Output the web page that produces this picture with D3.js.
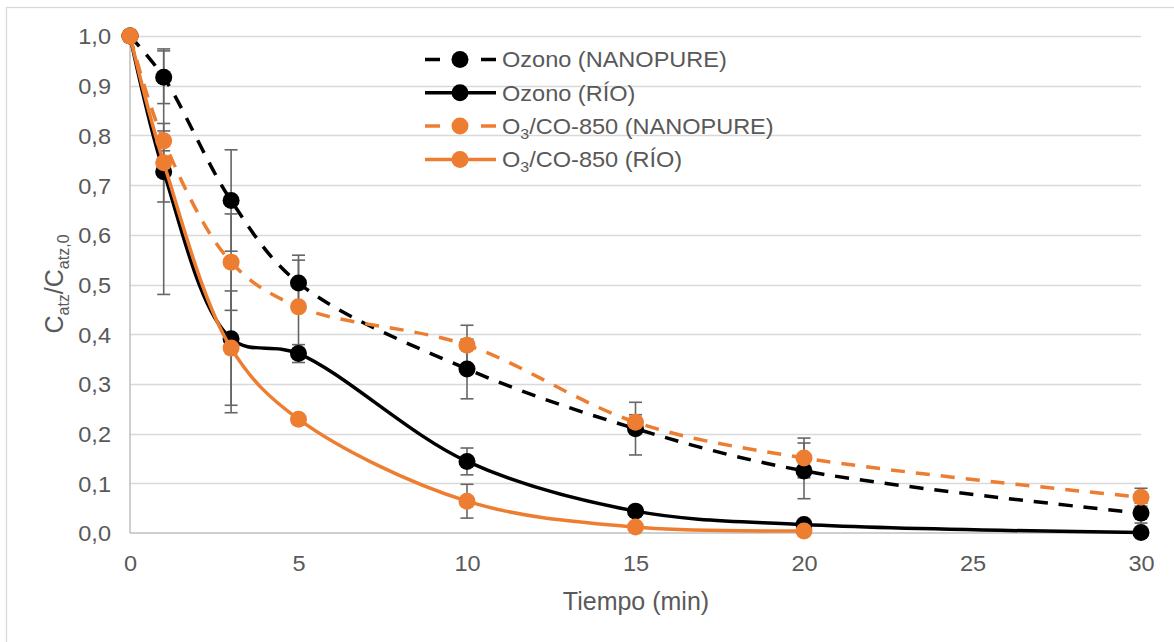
<!DOCTYPE html>
<html><head><meta charset="utf-8">
<script src="https://cdn.jsdelivr.net/npm/d3@7"></script>
<style>
body{margin:0;background:#fff;}
text{font-family:"Liberation Sans",Arial,sans-serif;fill:#595959;}
</style>
</head><body>
<svg id="c" width="1174" height="642"></svg>
<script>
// ---- data ----
const timesAll = [0, 1, 3, 5, 10, 15, 20, 30];
const timesCoRio = [0, 1, 3, 5, 10, 15, 20];
const ozonoNano = [1.0, 0.917, 0.669, 0.503, 0.330, 0.210, 0.125, 0.040];
const ozonoNanoErr = [0, 0.053, 0.102, 0.056, 0.060, 0.053, 0.056, 0.020];
const ozonoRio = [1.0, 0.727, 0.391, 0.361, 0.144, 0.044, 0.017, 0.001];
const ozonoRioErr = [0, 0.247, 0.149, 0.018, 0.027, 0, 0, 0];
const coNano = [1.0, 0.789, 0.545, 0.455, 0.378, 0.223, 0.151, 0.072];
const coNanoErr = [0, 0.020, 0.097, 0.094, 0.040, 0.015, 0.040, 0.018];
const coRio = [1.0, 0.745, 0.372, 0.229, 0.064, 0.012, 0.004];
const coRioErr = [0, 0.079, 0.115, 0, 0.034, 0, 0];
const xTicks = [0, 5, 10, 15, 20, 25, 30];
const yTicks = [0, 0.1, 0.2, 0.3, 0.4, 0.5, 0.6, 0.7, 0.8, 0.9, 1.0];
const yTickLabels = ["0,0","0,1","0,2","0,3","0,4","0,5","0,6","0,7","0,8","0,9","1,0"];
const xTickLabels = ["0","5","10","15","20","25","30"];

const ORANGE = "#ED7D31", BLACK = "#000000";
const series = [
  {name: ["Ozono (NANOPURE)"], t: timesAll, v: ozonoNano, e: ozonoNanoErr, color: BLACK, dash: true},
  {name: ["Ozono (RÍO)"], t: timesAll, v: ozonoRio, e: ozonoRioErr, color: BLACK, dash: false},
  {name: ["O", "3", "/CO-850 (NANOPURE)"], t: timesAll, v: coNano, e: coNanoErr, color: ORANGE, dash: true},
  {name: ["O", "3", "/CO-850 (RÍO)"], t: timesCoRio, v: coRio, e: coRioErr, color: ORANGE, dash: false}
];

// ---- layout ----
const svg = d3.select("#c");
const x = d3.scaleLinear().domain([0, 30]).range([130, 1141]);
const y = d3.scaleLinear().domain([0, 1]).range([533, 36]);
const SX = 1.07; // horizontal text stretch

// outer border
svg.append("rect").attr("x", 6.5).attr("y", 7.5).attr("width", 1200).attr("height", 700)
  .attr("fill", "none").attr("stroke", "#d9d9d9").attr("stroke-width", 1.3);

// gridlines
svg.append("g").selectAll("line").data(yTicks.slice(1)).join("line")
  .attr("x1", x(0)).attr("x2", x(30))
  .attr("y1", d => Math.round(y(d)) + 0.5).attr("y2", d => Math.round(y(d)) + 0.5)
  .attr("stroke", "#d9d9d9").attr("stroke-width", 1.3);

// axes lines
svg.append("line").attr("x1", x(0)).attr("x2", x(30)).attr("y1", y(0)).attr("y2", y(0))
  .attr("stroke", "#bfbfbf").attr("stroke-width", 1.5);
svg.append("line").attr("x1", x(0)).attr("x2", x(0)).attr("y1", y(0)).attr("y2", y(1))
  .attr("stroke", "#bfbfbf").attr("stroke-width", 1.5);

// y tick labels via axis
const yAxis = d3.axisLeft(y).tickValues(yTicks).tickSize(0).tickPadding(0)
  .tickFormat((d, i) => yTickLabels[i]);
const gy = svg.append("g").attr("transform", "translate(111,0)").call(yAxis);
gy.select(".domain").remove();
gy.selectAll("text").attr("font-size", 22).attr("fill", "#595959")
  .style("font-family", "'Liberation Sans', Arial, sans-serif")
  .attr("transform", `scale(${SX},1)`).attr("x", 0).attr("dy", "0.36em");

const xAxis = d3.axisBottom(x).tickValues(xTicks).tickSize(0).tickPadding(0)
  .tickFormat((d, i) => xTickLabels[i]);
const gx = svg.append("g").attr("transform", "translate(0,571)").call(xAxis);
gx.select(".domain").remove();
gx.selectAll("text").attr("font-size", 22).attr("fill", "#595959")
  .style("font-family", "'Liberation Sans', Arial, sans-serif")
  .attr("transform", `scale(${SX},1)`).attr("dy", 0).attr("y", 0);

// axis titles
svg.append("text").attr("x", 636).attr("y", 610).attr("text-anchor", "middle")
  .attr("font-size", 25).text("Tiempo (min)");
const yt = svg.append("text").attr("transform", "translate(63,284) rotate(-90)")
  .attr("text-anchor", "middle").attr("font-size", 25);
yt.append("tspan").text("C");
yt.append("tspan").attr("font-size", 16).attr("dy", 6).text("atz");
yt.append("tspan").attr("dy", -6).text("/C");
yt.append("tspan").attr("font-size", 16).attr("dy", 6).text("atz,0");

// error bars
const eb = svg.append("g");
series.forEach(s => {
  s.t.forEach((t, i) => {
    const e = s.e[i];
    if (!e) return;
    const cx = x(t), yt1 = y(s.v[i] + e), yb = y(s.v[i] - e);
    eb.append("line").attr("x1", cx).attr("x2", cx).attr("y1", yt1).attr("y2", yb)
      .attr("stroke", "#666").attr("stroke-width", 1.6);
    [yt1, yb].forEach(yy => eb.append("line").attr("x1", cx - 6.5).attr("x2", cx + 6.5)
      .attr("y1", yy).attr("y2", yy).attr("stroke", "#666").attr("stroke-width", 1.6));
  });
});

// lines and markers
const line = d3.line().x(d => x(d[0])).y(d => y(d[1])).curve(d3.curveCatmullRom.alpha(0.5));
series.forEach(s => {
  const pts = s.t.map((t, i) => [t, s.v[i]]);
  svg.append("path").datum(pts).attr("d", line).attr("fill", "none")
    .attr("stroke", s.color).attr("stroke-width", 3.5)
    .attr("stroke-dasharray", s.dash ? "14,11" : null);
  svg.append("g").selectAll("circle").data(pts).join("circle")
    .attr("cx", d => x(d[0])).attr("cy", d => y(d[1])).attr("r", 8.5)
    .attr("fill", s.color);
});

// legend
const legY = [59.5, 92.8, 126.1, 159.4];
series.forEach((s, i) => {
  const g = svg.append("g").attr("transform", `translate(0,${legY[i]})`);
  g.append("line").attr("x1", 425).attr("x2", 496).attr("y1", 0).attr("y2", 0)
    .attr("stroke", s.color).attr("stroke-width", 3.5)
    .attr("stroke-dasharray", s.dash ? "15,13" : null);
  g.append("circle").attr("cx", 460).attr("cy", 0).attr("r", 8.5).attr("fill", s.color);
  const tx = g.append("text").attr("transform", `translate(502,0) scale(${SX},1)`)
    .attr("dy", "0.36em").attr("font-size", 22);
  if (s.name.length === 1) tx.text(s.name[0]);
  else {
    tx.append("tspan").text(s.name[0]);
    tx.append("tspan").attr("font-size", 15).attr("dy", 5).text(s.name[1]);
    tx.append("tspan").attr("dy", -5).text(s.name[2]);
  }
});
</script>
</body></html>
